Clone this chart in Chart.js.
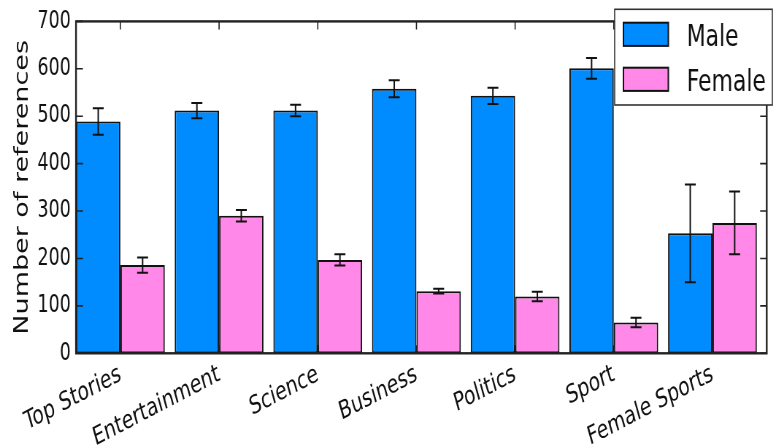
<!DOCTYPE html>
<html>
<head>
<meta charset="utf-8">
<script src="https://cdn.jsdelivr.net/npm/chart.js@4/dist/chart.umd.min.js"></script>
<style>
  html, body { margin: 0; padding: 0; background: #fff; overflow: hidden; }
  /* the figure is laid out wide and then narrowed horizontally */
  #wrap { width: 1059px; height: 448px; transform: scaleX(0.73); transform-origin: 0 0; }
</style>
</head>
<body>
<div id="wrap"><canvas id="c" width="1059" height="448"></canvas></div>
<script>
const categories = ['Top Stories', 'Entertainment', 'Science', 'Business', 'Politics', 'Sport', 'Female Sports'];
const maleValues = [489, 512, 512, 558, 543, 601, 253];
const maleErrors = [28, 16, 12, 18, 17, 22, 103];
const femaleValues = [186, 290, 197, 131, 120, 65, 275];
const femaleErrors = [16, 12, 12, 5, 10, 10, 66];
const yTicks = [0, 100, 200, 300, 400, 500, 600, 700];

const FONT = "'DejaVu Sans', sans-serif";
const INK = '#111';

// frame, inward tick marks and error bars
const decorations = {
  id: 'decorations',
  afterDatasetsDraw(chart) {
    const ctx = chart.ctx;
    const { left, right, top, bottom } = chart.chartArea;
    const xs = chart.scales.x, ys = chart.scales.y;
    ctx.save();

    // error bars
    ctx.strokeStyle = '#111';
    ctx.lineWidth = 2;
    chart.data.datasets.forEach((ds, di) => {
      const meta = chart.getDatasetMeta(di);
      meta.data.forEach((bar, i) => {
        const v = ds.data[i].y, e = ds.errors[i];
        const y1 = ys.getPixelForValue(v + e), y2 = ys.getPixelForValue(v - e);
        const cap = 7.5;
        ctx.beginPath();
        ctx.moveTo(bar.x, y1); ctx.lineTo(bar.x, y2);
        ctx.moveTo(bar.x - cap, y1); ctx.lineTo(bar.x + cap, y1);
        ctx.moveTo(bar.x - cap, y2); ctx.lineTo(bar.x + cap, y2);
        ctx.stroke();
      });
    });

    // tick marks pointing into the plot
    ctx.strokeStyle = '#222';
    ctx.lineWidth = 1.6;
    ctx.beginPath();
    yTicks.forEach(t => {
      const y = ys.getPixelForValue(t);
      ctx.moveTo(left, y); ctx.lineTo(left + 9.5, y);
      ctx.moveTo(right, y); ctx.lineTo(right - 9, y);
    });
    categories.forEach((c, i) => {
      const x = xs.getPixelForValue(i);
      ctx.moveTo(x, top); ctx.lineTo(x, top + 8);
      ctx.moveTo(x, bottom); ctx.lineTo(x, bottom - 8);
    });
    ctx.stroke();

    // frame
    ctx.lineWidth = 2.4;
    ctx.strokeRect(left, top, right - left, bottom - top);
    ctx.restore();
  },
  afterDraw(chart) {
    // legend box in the upper right corner
    const ctx = chart.ctx;
    ctx.save();
    ctx.fillStyle = '#fff';
    ctx.strokeStyle = '#333';
    ctx.lineWidth = 1.6;
    ctx.fillRect(842, 9.3, 216, 95.7);
    ctx.strokeRect(842, 9.3, 216, 95.7);
    const rows = [22.7, 67.7];
    ctx.font = '30px ' + FONT;
    ctx.textBaseline = 'alphabetic';
    chart.data.datasets.forEach((ds, i) => {
      const y = rows[i];
      ctx.fillStyle = ds.backgroundColor;
      ctx.fillRect(854, y, 61.5, 23.2);
      ctx.strokeStyle = '#111';
      ctx.lineWidth = 2;
      ctx.strokeRect(854, y, 61.5, 23.2);
      ctx.fillStyle = INK;
      ctx.fillText(ds.label, 940.7, y + 23);
    });
    ctx.restore();
  }
};

new Chart(document.getElementById('c'), {
  type: 'bar',
  data: {
    datasets: [
      {
        label: 'Male',
        data: maleValues.map((v, i) => ({ x: i, y: v })),
        errors: maleErrors,
        backgroundColor: '#008cff',
        borderColor: '#111',
        borderWidth: 2,
        borderSkipped: false
      },
      {
        label: 'Female',
        data: femaleValues.map((v, i) => ({ x: i, y: v })),
        errors: femaleErrors,
        backgroundColor: '#ff88e8',
        borderColor: '#111',
        borderWidth: 2,
        borderSkipped: false
      }
    ]
  },
  options: {
    responsive: false,
    animation: false,
    devicePixelRatio: 1,
    layout: { padding: { top: 17.3, right: 8.7, left: 0, bottom: 0 } },
    plugins: { legend: { display: false }, tooltip: { enabled: false } },
    datasets: { bar: { categoryPercentage: 0.9, barPercentage: 1.0 } },
    scales: {
      x: {
        type: 'linear',
        offset: false,
        min: -0.45,
        max: 6.55,
        grid: { display: false, drawTicks: false, offset: false },
        border: { display: false },
        afterBuildTicks: s => { s.ticks = categories.map((c, i) => ({ value: i })); },
        afterFit: s => { s.height = 94.7; },
        ticks: {
          autoSkip: false,
          minRotation: 21,
          maxRotation: 21,
          padding: 6,
          color: INK,
          font: { family: FONT, size: 25.5 },
          callback: v => categories[v] ?? ''
        }
      },
      y: {
        min: 0,
        max: 700,
        grid: { display: false, drawTicks: false },
        border: { display: false },
        afterBuildTicks: s => { s.ticks = yTicks.map(v => ({ value: v })); },
        afterFit: s => { s.width = 104.1; },
        ticks: {
          padding: 7,
          color: INK,
          font: { family: FONT, size: 24 }
        },
        title: {
          display: true,
          text: 'Number of references',
          color: INK,
          font: { family: FONT, size: 27 },
          padding: { top: 15, bottom: 0 }
        }
      }
    }
  },
  plugins: [decorations]
});
</script>
</body>
</html>
